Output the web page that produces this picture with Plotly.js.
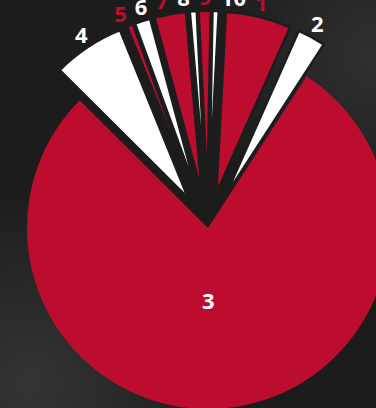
<!DOCTYPE html>
<html>
<head>
<meta charset="utf-8">
<script src="https://cdn.plot.ly/plotly-3.0.1.min.js"></script>
<style>
  html, body { margin: 0; padding: 0; width: 376px; height: 408px; overflow: hidden; }
  body {
    background-color: #1d1c1d;
    background-image:
      radial-gradient(circle at 8% 94%, rgba(72,72,72,0.55) 0%, rgba(29,28,29,0) 38%),
      radial-gradient(circle at 100% 14%, rgba(72,72,72,0.45) 0%, rgba(29,28,29,0) 33%);
    position: relative;
  }
  #chart { position: absolute; left: -40px; top: -60px; width: 500px; height: 560px; }
</style>
</head>
<body>
<div id="chart"></div>
<script>
const labels = ["1", "2", "3", "4", "5", "6", "7", "8", "9", "10"];
const values = [5.83, 2.5, 78.33, 6.4, 0.56, 1.39, 2.8, 0.61, 1.06, 0.55];
const sliceColors = ["#bd0d2f", "#ffffff", "#bd0d2f", "#ffffff", "#bd0d2f", "#ffffff", "#bd0d2f", "#ffffff", "#bd0d2f", "#ffffff"];
const labelColors = ["#bd0d2f", "#ffffff", "#ffffff", "#ffffff", "#bd0d2f", "#ffffff", "#bd0d2f", "#ffffff", "#bd0d2f", "#ffffff"];
const pulls = [0.2, 0.2, 0, 0.2, 0.2, 0.2, 0.2, 0.2, 0.2, 0.2];

const W = 500, H = 560;
const cx = 248, cy = 288;          // pie centre in layout pixels
const R = 181;                      // pie radius in pixels
const maxPull = 0.2;
const half = R * (1 + maxPull);
const rotation = 3;
const polarHalf = 240;              // polar (label) frame half size
const outsideR = 1.265, insideR = 0.40;
const fontSize = 22;

// slice angles from the data (clockwise from 12 o'clock)
const total = values.reduce((a, b) => a + b, 0);
let acc = 0;
const spans = values.map(v => { const s = rotation + acc / total * 360; acc += v; return [s, rotation + acc / total * 360]; });
const midAngles = spans.map(s => (s[0] + s[1]) / 2);

// outside labels: spread them apart along the arc so they don't collide
const outIdx = labels.map((l, i) => i).filter(i => pulls[i] > 0);
const unwrap = a => (a > 180 ? a - 360 : a);
const items = outIdx.map(i => ({ i, a: unwrap(midAngles[i]), w: labels[i].length * fontSize * 0.58 }))
  .sort((p, q) => p.a - q.a);
const radPx = outsideR * R;
for (let it = 0; it < 400; it++) {
  for (let k = 0; k < items.length - 1; k++) {
    const p = items[k], q = items[k + 1];
    const need = ((p.w + q.w) / 2 + 9) / radPx * 180 / Math.PI;
    const gap = q.a - p.a;
    if (gap < need) { const d = (need - gap) / 2; p.a -= d; q.a += d; }
  }
}
const outTheta = items.map(p => p.a);
const outText = items.map(p => labels[p.i]);
const outColor = items.map(p => labelColors[p.i]);

const pie = {
  type: "pie",
  labels: labels,
  values: values,
  sort: false,
  direction: "clockwise",
  rotation: rotation,
  pull: pulls,
  marker: { colors: sliceColors, line: { color: "#1e1d1e", width: pulls.map(p => (p > 0 ? 2.5 : 0)) } },
  textinfo: "none",
  hoverinfo: "none",
  domain: { x: [(cx - half) / W, (cx + half) / W], y: [1 - (cy + half) / H, 1 - (cy - half) / H] }
};

const text = {
  type: "scatterpolar",
  mode: "text",
  r: outTheta.map(() => outsideR),
  theta: outTheta,
  text: outText,
  textposition: "middle center",
  textfont: { family: "Open Sans, sans-serif", size: fontSize, color: outColor, weight: 700 },
  cliponaxis: false,
  hoverinfo: "none",
  showlegend: false
};

// horizontal centre of a slice's extent
function sliceCenterX(s) {
  const xs = [0];
  for (let a = s[0]; a <= s[1]; a += 1) xs.push(Math.sin(a * Math.PI / 180));
  xs.push(Math.sin(s[1] * Math.PI / 180));
  return (Math.min(...xs) + Math.max(...xs)) / 2;
}

// the inside label (unpulled slice) sits on top of the pie, so it is an annotation
const annotations = labels.map((l, i) => i).filter(i => pulls[i] === 0).map(i => {
  const px = cx + R * sliceCenterX(spans[i]);
  const py = cy + insideR * R;
  return {
    text: labels[i], xref: "paper", yref: "paper", x: px / W, y: 1 - py / H,
    xanchor: "center", yanchor: "middle", showarrow: false,
    font: { family: "Open Sans, sans-serif", size: fontSize, color: labelColors[i], weight: 700 }
  };
});

Plotly.newPlot("chart", [pie, text], {
  width: W, height: H,
  margin: { l: 0, r: 0, t: 0, b: 0 },
  paper_bgcolor: "rgba(0,0,0,0)",
  plot_bgcolor: "rgba(0,0,0,0)",
  showlegend: false,
  font: { family: "Open Sans, sans-serif" },
  annotations: annotations,
  polar: {
    domain: { x: [(cx - polarHalf) / W, (cx + polarHalf) / W], y: [1 - (cy + polarHalf) / H, 1 - (cy - polarHalf) / H] },
    bgcolor: "rgba(0,0,0,0)",
    radialaxis: { visible: false, range: [0, polarHalf / R] },
    angularaxis: { visible: false, rotation: 90, direction: "clockwise" }
  }
}, { displayModeBar: false, staticPlot: true });
</script>
</body>
</html>
